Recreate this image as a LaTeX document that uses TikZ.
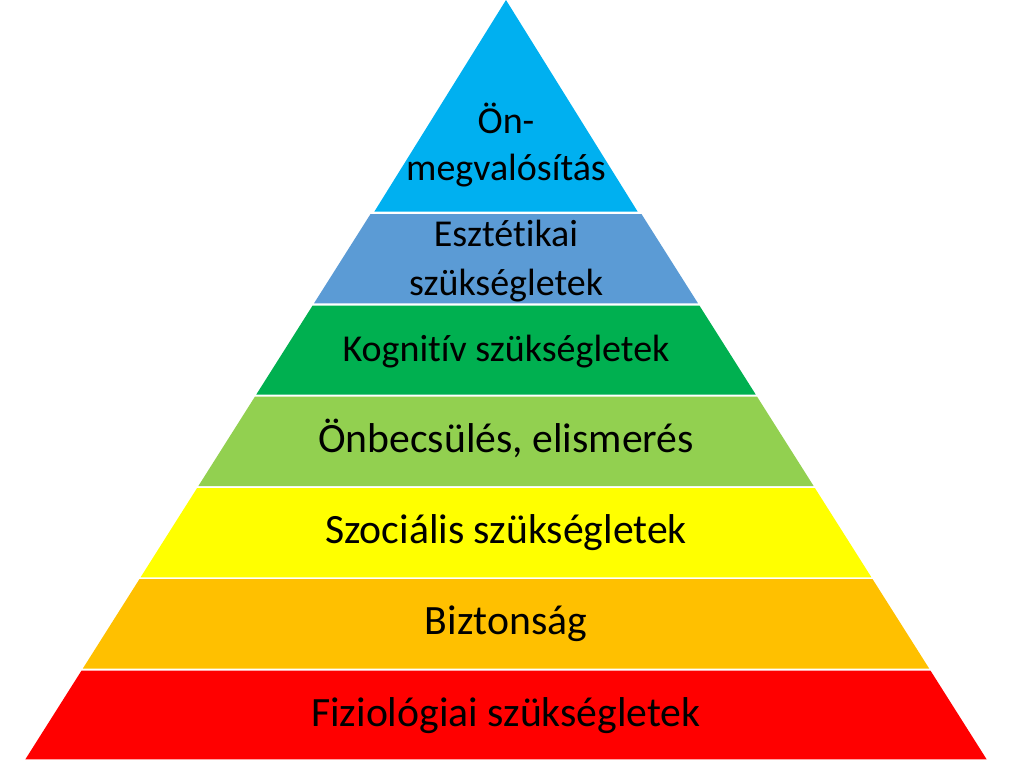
\documentclass[tikz,border=0pt]{standalone}
\usepackage{fontspec}
\setmainfont{Carlito}[Ligatures=NoCommon]
\usetikzlibrary{positioning}
\definecolor{selfblue}{HTML}{00B0F0}
\definecolor{aesthblue}{HTML}{5B9BD5}
\definecolor{cognigreen}{HTML}{00B050}
\definecolor{esteemgreen}{HTML}{92D050}
\definecolor{socialyellow}{HTML}{FFFF00}
\definecolor{safeorange}{HTML}{FFC000}
\definecolor{bodyred}{HTML}{FF0000}
% one trapezoid of the pyramid: top y, bottom y, colour
\newcommand{\tier}[3]{\fill[#3] (506-0.633*#1,#1) -- (506+0.633*#1,#1)
    -- (506+0.633*#2,#2) -- (506-0.633*#2,#2) -- cycle;}

\begin{document}
\begin{tikzpicture}[x=1pt, y=-1pt,
      tiertext/.style={anchor=base,align=center,text=black,inner sep=0pt,font=\fontsize{41.7}{48}\selectfont},
      smalltext/.style={tiertext,font=\fontsize{38}{48}\selectfont}]
    \useasboundingbox (0,0) rectangle (1023,777);
    % top triangle
    \fill[selfblue] (506,0) -- (637.7,211.7) -- (374.3,211.7) -- cycle;
    \tier{214}{303.3}{aesthblue}
    \tier{305.6}{394.5}{cognigreen}
    \tier{396.7}{486}{esteemgreen}
    \tier{488}{577.3}{socialyellow}
    \tier{579.2}{668.6}{safeorange}
    \tier{670.7}{759.3}{bodyred}
    % texts (base = last line)
    \node[smalltext,font=\fontsize{38}{47}\selectfont] at (506,180) (self) {Ön-\\megvalósítás};
    \node[smalltext,font=\fontsize{38}{49}\selectfont] at (506,295.7) (aesth) {Esztétikai\\szükségletek};
    \node[smalltext] at (506,361.7) (cogn) {Kognitív szükségletek};
    \node[tiertext] at (506,452.7) (esteem) {Önbecsülés, elismerés};
    \node[tiertext] at (506,543.3) (social) {Szociális szükségletek};
    \node[tiertext] at (506,634.3) (safe) {Biztonság};
    \node[tiertext] at (506,726.7) (body) {Fiziológiai szükségletek};
\end{tikzpicture}
\end{document}
